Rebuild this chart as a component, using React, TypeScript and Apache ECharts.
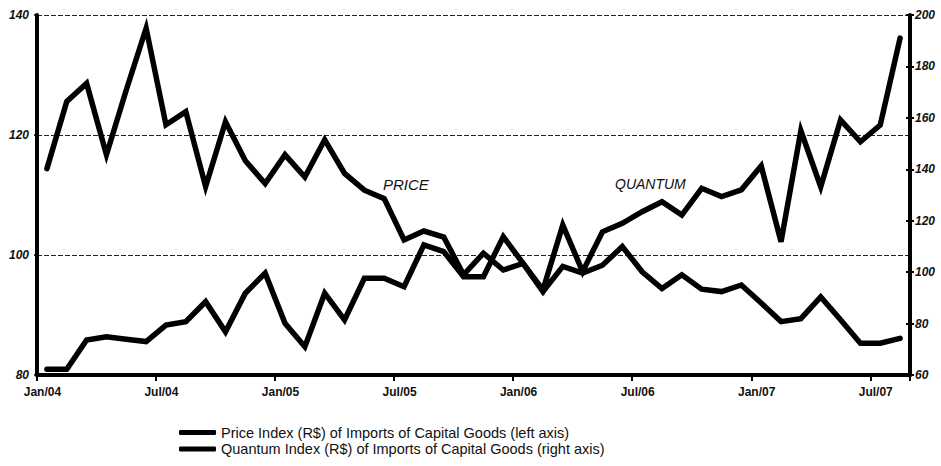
import React, { useEffect, useRef } from "react";
import * as echarts from "echarts";

const months = [
  "Jan/04", "Feb/04", "Mar/04", "Apr/04", "May/04", "Jun/04", "Jul/04", "Aug/04", "Sep/04", "Oct/04", "Nov/04", "Dec/04",
  "Jan/05", "Feb/05", "Mar/05", "Apr/05", "May/05", "Jun/05", "Jul/05", "Aug/05", "Sep/05", "Oct/05", "Nov/05", "Dec/05",
  "Jan/06", "Feb/06", "Mar/06", "Apr/06", "May/06", "Jun/06", "Jul/06", "Aug/06", "Sep/06", "Oct/06", "Nov/06", "Dec/06",
  "Jan/07", "Feb/07", "Mar/07", "Apr/07", "May/07", "Jun/07", "Jul/07", "Aug/07",
];

const priceIndex = [
  114.4, 125.6, 128.6, 116.7, 127.5, 137.8, 121.7, 123.9, 111.4, 122.2, 115.7, 111.9,
  116.7, 113.0, 119.2, 113.6, 110.8, 109.4, 102.5, 104.0, 103.0, 96.7, 100.3, 97.5,
  98.6, 93.9, 98.1, 97.0, 98.3, 101.4, 97.2, 94.4, 96.7, 94.3, 93.9, 95.0,
  92.0, 88.9, 89.4, 93.0, 89.2, 85.3, 85.3, 86.1,
];

const quantumIndex = [
  62.2, 62.2, 73.6, 74.9, 73.9, 73.0, 79.4, 80.7, 88.5, 76.8, 91.8, 99.6,
  80.1, 71.0, 91.8, 81.4, 97.6, 97.6, 94.3, 110.6, 108.0, 98.2, 98.2, 113.8,
  103.4, 93.1, 118.3, 100.2, 115.7, 119.0, 123.5, 127.4, 122.2, 132.6, 129.4, 132.0,
  141.3, 111.8, 155.0, 133.2, 159.2, 150.7, 157.2, 191.0,
];

const seriesNames = [
  "Price Index (R$) of Imports of Capital Goods (left axis)",
  "Quantum Index (R$) of Imports of Capital Goods (right axis)",
];

const annotations = ["PRICE", "QUANTUM"];

const FONT = '"Liberation Sans", Arial, Helvetica, sans-serif';

export default function App() {
  const ref = useRef<HTMLDivElement>(null);

  useEffect(() => {
    if (!ref.current) return;
    const chart = echarts.init(ref.current, undefined, { renderer: "svg" });
    const axisLabelStyle = {
      fontFamily: FONT,
      fontSize: 12,
      fontWeight: "bold" as const,
      fontStyle: "italic" as const,
      color: "#111",
    };
    chart.setOption({
      animation: false,
      backgroundColor: "#fff",
      grid: { left: 37, right: 31, top: 15, bottom: 91, containLabel: false },
      legend: {
        show: true,
        orient: "vertical",
        left: 174,
        top: 420,
        itemWidth: 37,
        itemHeight: 5,
        itemGap: 1.5,
        icon: "roundRect",
        selectedMode: false,
        textStyle: { fontFamily: FONT, fontSize: 14.5, color: "#111", lineHeight: 14 },
        data: seriesNames,
      },
      xAxis: {
        type: "category",
        data: months,
        boundaryGap: true,
        axisLine: { show: true, lineStyle: { color: "#000", width: 4 } },
        axisTick: { show: true, interval: 5, length: 6, lineStyle: { color: "#000", width: 2 } },
        axisLabel: {
          interval: 5,
          margin: 11,
          fontFamily: FONT,
          fontSize: 12,
          fontWeight: "bold",
          color: "#111",
          padding: [0, 9, 0, 0],
        },
        splitLine: { show: false },
      },
      yAxis: [
        {
          type: "value",
          position: "left",
          min: 80,
          max: 140,
          interval: 20,
          axisLine: { show: true, lineStyle: { color: "#000", width: 4 } },
          axisTick: { show: true, length: 3, lineStyle: { color: "#000", width: 1.5 } },
          axisLabel: { ...axisLabelStyle, margin: 8 },
          splitLine: { show: true, lineStyle: { color: "#222", width: 1, type: [5, 2] } },
        },
        {
          type: "value",
          position: "right",
          offset: 0,
          min: 60,
          max: 200,
          interval: 20,
          axisLine: { show: true, lineStyle: { color: "#000", width: 4 } },
          axisTick: { show: true, length: 4, lineStyle: { color: "#000", width: 2 } },
          axisLabel: { ...axisLabelStyle, margin: 5 },
          splitLine: { show: false },
        },
        {
          type: "value",
          position: "right",
          offset: 0,
          min: 60,
          max: 200,
          interval: 20,
          axisLine: { show: false },
          axisTick: { show: true, inside: true, length: 4, lineStyle: { color: "#000", width: 2 } },
          axisLabel: { show: false },
          splitLine: { show: false },
        },
      ],
      series: [
        {
          name: seriesNames[0],
          type: "line",
          yAxisIndex: 0,
          data: priceIndex,
          symbol: "none",
          color: "#000",
          lineStyle: { color: "#000", width: 5.5, join: "miter", miterLimit: 4, cap: "round" },
          z: 3,
        },
        {
          name: seriesNames[1],
          type: "line",
          yAxisIndex: 1,
          data: quantumIndex,
          symbol: "none",
          color: "#000",
          lineStyle: { color: "#000", width: 5.5, join: "miter", miterLimit: 4, cap: "round" },
          z: 3,
        },
      ],
      graphic: [
        {
          type: "text",
          left: 383,
          top: 177,
          style: {
            text: annotations[0],
            fontFamily: FONT,
            fontSize: 15,
            fontStyle: "italic",
            fill: "#111",
          },
        },
        {
          type: "text",
          left: 615,
          top: 177,
          style: {
            text: annotations[1],
            fontFamily: FONT,
            fontSize: 14,
            fontStyle: "italic",
            fill: "#111",
          },
        },
      ],
    });
    return () => chart.dispose();
  }, []);

  return <div ref={ref} style={{ width: 941, height: 466, position: "absolute", left: 0, top: 0 }} />;
}
